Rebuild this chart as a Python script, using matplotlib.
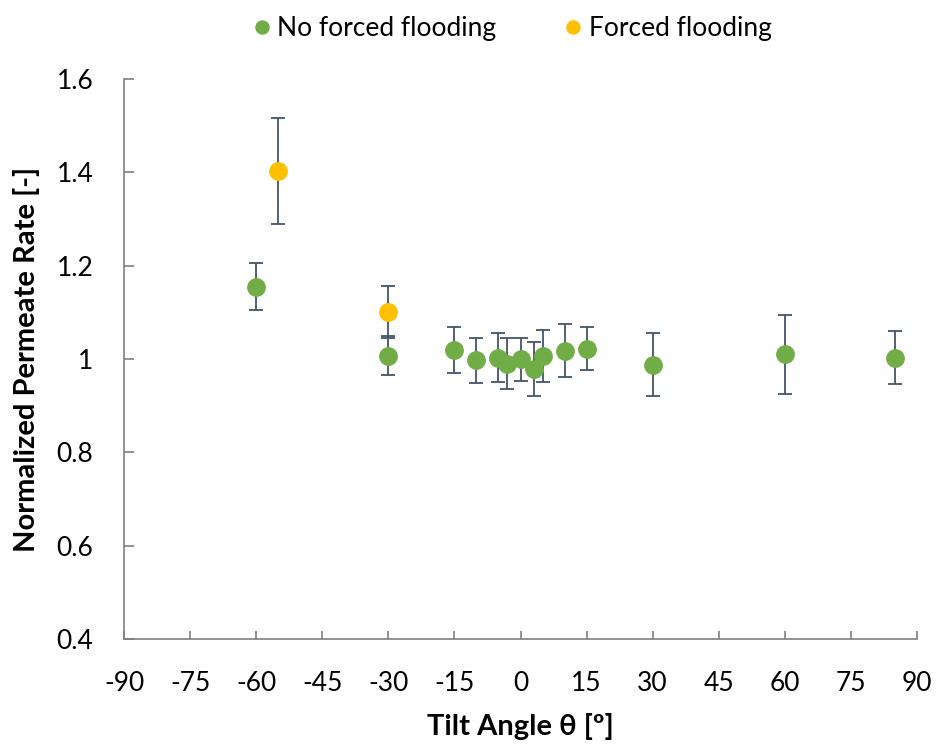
import matplotlib.pyplot as plt

plt.rcParams['font.family'] = ['Lato', 'DejaVu Sans']
plt.rcParams['axes.unicode_minus'] = False

# no forced flooding
angle_nf = [-60, -30, -15, -10, -5, -3, 0, 3, 5, 10, 15, 30, 60, 85]
rate_nf = [1.155, 1.007, 1.020, 0.997, 1.003, 0.990, 0.999, 0.978, 1.007, 1.018, 1.022, 0.988, 1.010, 1.003]
err_nf = [0.050, 0.042, 0.049, 0.048, 0.052, 0.055, 0.047, 0.058, 0.056, 0.056, 0.046, 0.068, 0.085, 0.057]

# forced flooding
angle_f = [-55, -30]
rate_f = [1.403, 1.100]
err_f = [0.113, 0.056]

green = "#70AD47"
orange = "#FFC000"
bar_col = "#44546A"
axis_col = "#7F7F7F"

fig = plt.figure(figsize=(9.36, 7.44), dpi=100)
ax = fig.add_axes([0.1325, 0.1411, 0.8472, 0.7527])

ax.errorbar(angle_nf, rate_nf, yerr=err_nf, fmt='o', color=green, ms=12.5,
            ecolor=bar_col, elinewidth=1.3, capsize=5, capthick=1.3,
            label="No forced flooding", zorder=3)
ax.errorbar(angle_f, rate_f, yerr=err_f, fmt='o', color=orange, ms=12.5,
            ecolor=bar_col, elinewidth=1.3, capsize=5, capthick=1.3,
            label="Forced flooding", zorder=3)

ax.set_xlim(-90, 90)
ax.set_ylim(0.4, 1.6)
ax.set_xticks(range(-90, 91, 15))
ax.set_yticks([0.4, 0.6, 0.8, 1.0, 1.2, 1.4, 1.6])
ax.set_yticklabels(["0.4", "0.6", "0.8", "1", "1.2", "1.4", "1.6"])

for s in ["top", "right"]:
    ax.spines[s].set_visible(False)
for s in ["left", "bottom"]:
    ax.spines[s].set_color(axis_col)
    ax.spines[s].set_linewidth(1.2)

ax.tick_params(axis='both', direction='in', color=axis_col, width=1.2,
               labelsize=19, labelcolor="black")
ax.tick_params(axis='y', length=7, pad=22)
ax.tick_params(axis='x', length=6, pad=23)

ax.set_xlabel("Tilt Angle θ [º]", fontsize=21, fontweight='bold', labelpad=12)
ax.set_ylabel("Normalized Permeate Rate [-]", fontsize=21, fontweight='bold', labelpad=12)

handles, labels = ax.get_legend_handles_labels()
handles = [h[0] for h in handles]
leg = fig.legend(handles, labels, loc='upper center', bbox_to_anchor=(0.545, 1.01),
                 ncol=2, frameon=False, fontsize=19, handletextpad=0.1,
                 columnspacing=2.4, markerscale=0.75, handlelength=1.0)

fig.savefig("out.png", dpi=100)
